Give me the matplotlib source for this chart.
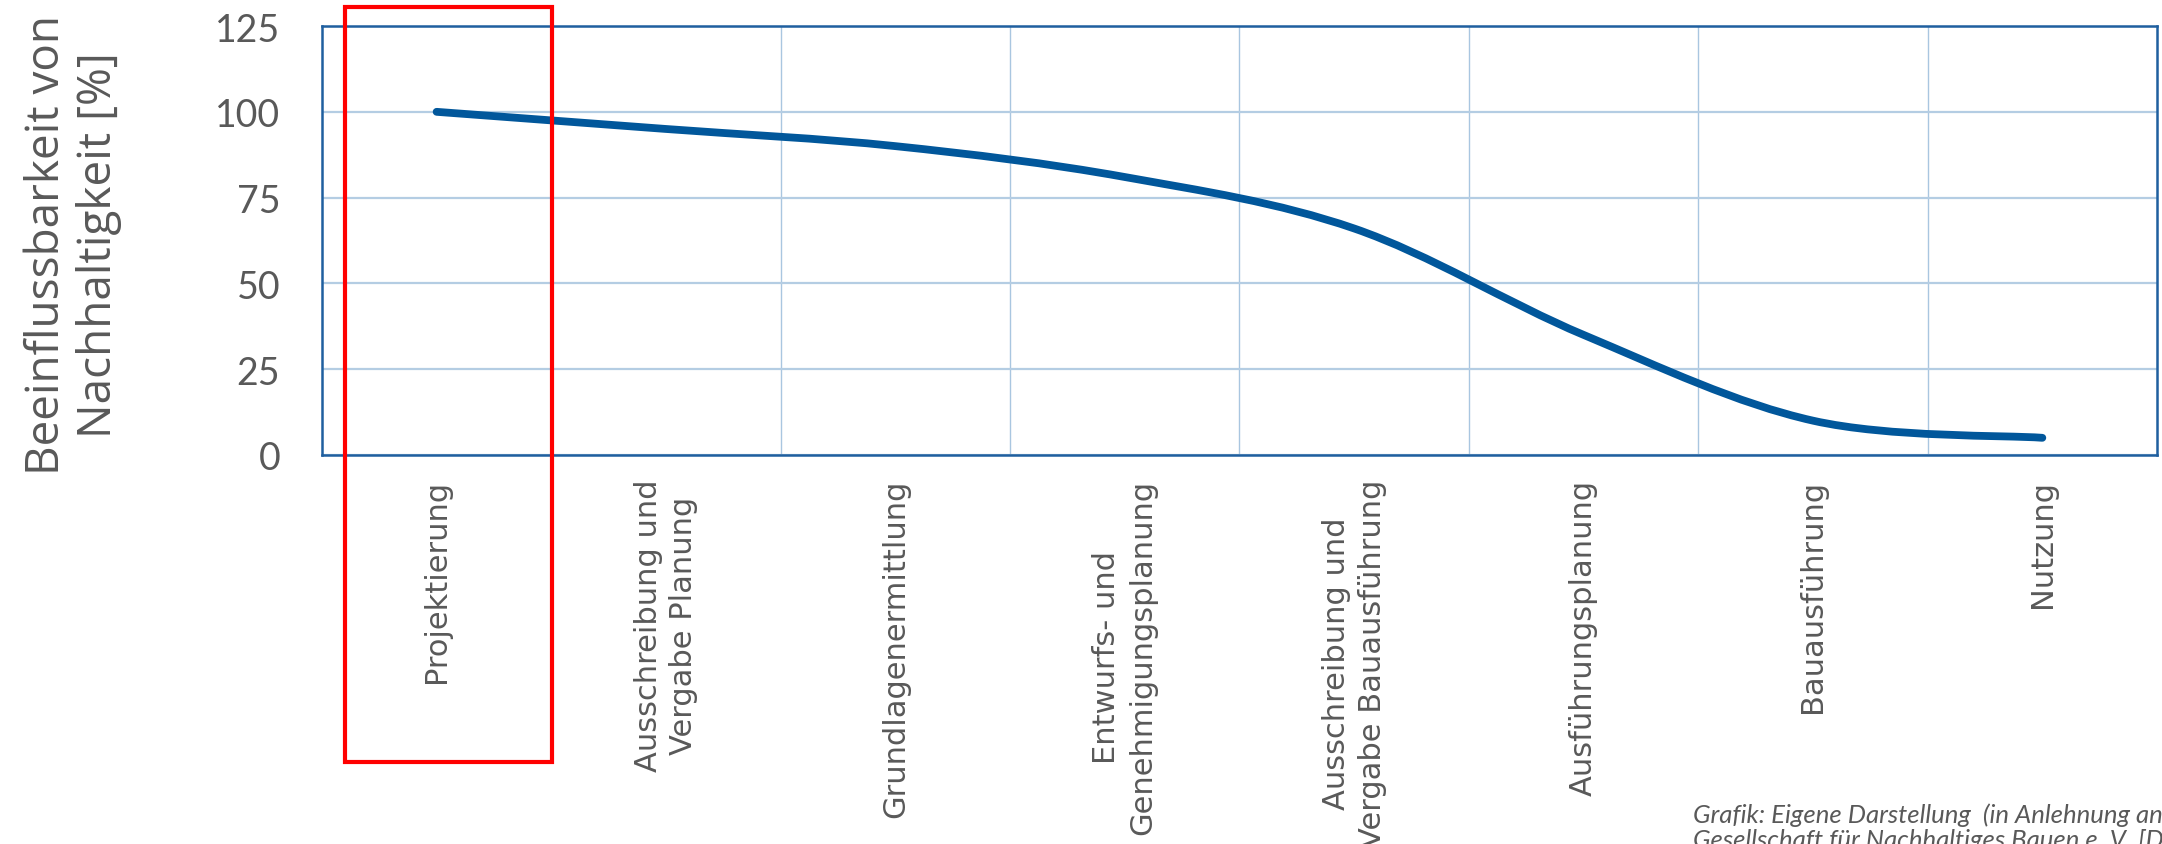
import matplotlib
matplotlib.use("Agg")
import matplotlib.pyplot as plt
import matplotlib.patches as mpatches
import matplotlib.transforms as mtransforms
from matplotlib.path import Path
import numpy as np

# Lebenszyklusphasen und Beeinflussbarkeit (%)
phases = [
    "Projektierung",
    "Ausschreibung und\nVergabe Planung",
    "Grundlagenermittlung",
    "Entwurfs- und\nGenehmigungsplanung",
    "Ausschreibung und\nVergabe Bauausführung",
    "Ausführungsplanung",
    "Bauausführung",
    "Nutzung",
]
influence = [100, 95, 90, 81, 66, 35, 10, 5]
y_ticks = [0, 25, 50, 75, 100, 125]
highlight = 0  # hervorgehobene Phase

LINE = "#01579B"
SPINE = "#1F5F9F"
GRID_H = "#B4CDE3"
GRID_V = "#A9C6E0"
TEXT = "#595959"
RED = "#FF0000"

plt.rcParams["font.family"] = "Open Sans"

fig = plt.figure(figsize=(21.62, 8.45), dpi=100)
ax = fig.add_axes([0.1489, 0.4604, 0.8488, 0.5076])

x = np.arange(len(phases))
y = np.array(influence, dtype=float)

# geglättete Linie (Bezier-Segmente wie in Excel)
pad_y = np.concatenate([[y[0]], y, [y[-1]]])
pad_x = np.concatenate([[x[0]], x, [x[-1]]])
verts = [(x[0], y[0])]
codes = [Path.MOVETO]
for i in range(len(x) - 1):
    p0 = np.array([pad_x[i], pad_y[i]])
    p1 = np.array([pad_x[i + 1], pad_y[i + 1]])
    p2 = np.array([pad_x[i + 2], pad_y[i + 2]])
    p3 = np.array([pad_x[i + 3], pad_y[i + 3]])
    c1 = p1 + (p2 - p0) / 6
    c2 = p2 - (p3 - p1) / 6
    verts += [tuple(c1), tuple(c2), tuple(p2)]
    codes += [Path.CURVE4] * 3
curve = mpatches.PathPatch(Path(verts, codes), facecolor="none",
                           edgecolor=LINE, linewidth=5.6,
                           capstyle="round", joinstyle="round", zorder=3)
ax.add_patch(curve)

ax.set_xlim(-0.5, len(phases) - 0.5)
ax.set_ylim(0, 125)
ax.set_yticks(y_ticks)
ax.set_xticks(x)
ax.set_xticks(x[:-1] + 0.5, minor=True)
ax.set_xticklabels(phases, rotation=90, va="top", ha="center",
                   multialignment="center", fontsize=22, color=TEXT,
                   family="DejaVu Sans", linespacing=1.3)
ax.tick_params(axis="x", which="both", length=0, pad=17)
ax.tick_params(axis="y", length=0, pad=30, labelsize=27, labelcolor=TEXT)
for lbl in ax.get_yticklabels():
    lbl.set_fontfamily("Lato")

ax.grid(axis="y", which="major", color=GRID_H, linewidth=1.6, zorder=0)
ax.grid(axis="x", which="minor", color=GRID_V, linewidth=1.0, zorder=0)
for s in ax.spines.values():
    s.set_color(SPINE)
    s.set_linewidth(1.8)

fig.text(73 / 2162, 1 - 245 / 845, "Beeinflussbarkeit von\nNachhaltigkeit [%]",
         rotation=90, ha="center", va="center", multialignment="center",
         fontsize=33, color=TEXT, linespacing=1.15)

# rote Markierung der ersten Phase
trans = mtransforms.blended_transform_factory(ax.transData, fig.transFigure)
rect = mpatches.Rectangle((highlight - 0.4, 1 - 763 / 845), 0.905, 755 / 845,
                          transform=trans, fill=False, edgecolor=RED,
                          linewidth=3.0, clip_on=False, zorder=5)
fig.add_artist(rect)

fig.text(1693 / 2162, 1 - 803 / 845,
         "Grafik: Eigene Darstellung  (in Anlehnung an die Deutsche\n"
         "Gesellschaft für Nachhaltiges Bauen e. V. [DGNB])",
         ha="left", va="top", fontsize=18.5, style="italic", color=TEXT,
         family="Lato", linespacing=1.1)

fig.savefig("out.png", dpi=100)
